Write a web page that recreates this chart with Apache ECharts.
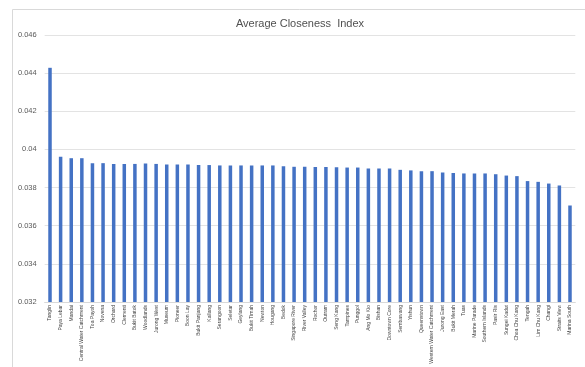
<!DOCTYPE html>
<html>
<head>
<meta charset="utf-8">
<script src="https://cdn.jsdelivr.net/npm/echarts@6/dist/echarts.min.js"></script>
<style>
  html, body { margin: 0; padding: 0; background: #ffffff; }
  #chart { width: 585px; height: 367px; }
</style>
</head>
<body>
<div id="chart"></div>
<script>
// Planning areas, ordered by average closeness
const areas = [
  'Tanglin', 'Paya Lebar', 'Mandai', 'Central Water Catchment', 'Toa Payoh',
  'Novena', 'Orchard', 'Clementi', 'Bukit Batok', 'Woodlands',
  'Jurong West', 'Museum', 'Pioneer', 'Boon Lay', 'Bukit Panjang',
  'Kallang', 'Serangoon', 'Seletar', 'Geylang', 'Bukit Timah',
  'Newton', 'Hougang', 'Bedok', 'Singapore River', 'River Valley',
  'Rochor', 'Outram', 'Seng Kang', 'Tampines', 'Punggol',
  'Ang Mo Kio', 'Bishan', 'Downtown Core', 'Sembawang', 'Yishun',
  'Queenstown', 'Western Water Catchment', 'Jurong East', 'Bukit Merah', 'Tuas',
  'Marine Parade', 'Southern Islands', 'Pasir Ris', 'Sungei Kadut', 'Choa Chu Kang',
  'Tengah', 'Lim Chu Kang', 'Changi', 'Straits View', 'Marina South'
];

// Average closeness index per area
const closeness = [
  0.04428, 0.03961, 0.03954, 0.03954, 0.03928,
  0.03928, 0.03924, 0.03924, 0.03924, 0.03926,
  0.03924, 0.03921, 0.03921, 0.03921, 0.03918,
  0.03918, 0.03916, 0.03916, 0.03916, 0.03916,
  0.03916, 0.03916, 0.03912, 0.03909, 0.03909,
  0.03908, 0.03908, 0.03906, 0.03905, 0.03905,
  0.03900, 0.03900, 0.03900, 0.03893, 0.03890,
  0.03886, 0.03886, 0.03879, 0.03877, 0.03874,
  0.03874, 0.03874, 0.03870, 0.03863, 0.03860,
  0.03834, 0.03830, 0.03821, 0.03811, 0.03706
];

// Value axis range and step
const yMin = 0.032;
const yMax = 0.046;
const yStep = 0.002;

const chart = echarts.init(document.getElementById('chart'), null, { renderer: 'canvas' });

chart.setOption({
  animation: false,
  backgroundColor: '#ffffff',
  graphic: [{
    type: 'rect',
    shape: { x: 12.5, y: 9.5, width: 600, height: 400 },
    style: { fill: 'none', stroke: '#d9d9d9', lineWidth: 1 },
    silent: true,
    z: -1
  }],
  title: {
    text: 'Average Closeness  Index',
    left: 295,
    textAlign: 'center',
    top: 13,
    textStyle: {
      fontFamily: 'Liberation Sans, Arial, sans-serif',
      fontSize: 11,
      fontWeight: 'normal',
      color: '#505050'
    }
  },
  grid: {
    left: 44.7,
    right: 9.7,
    top: 35,
    bottom: 65,
    containLabel: false,
    outerBoundsMode: 'none'
  },
  xAxis: {
    type: 'category',
    data: areas,
    axisLine: { show: true, lineStyle: { color: '#d9d9d9', width: 1 } },
    axisTick: { show: false },
    axisLabel: {
      interval: 0,
      rotate: 90,
      margin: 3,
      hideOverlap: false,
      fontFamily: 'Liberation Sans, Arial, sans-serif',
      fontSize: 5,
      color: '#454545'
    }
  },
  yAxis: {
    type: 'value',
    min: yMin,
    max: yMax,
    interval: yStep,
    axisLine: { show: false },
    axisTick: { show: false },
    splitLine: { show: true, lineStyle: { color: '#e3e3e3', width: 1 } },
    axisLabel: {
      margin: 8,
      fontFamily: 'Liberation Sans, Arial, sans-serif',
      fontSize: 7.5,
      color: '#595959',
      formatter: function (v) {
        return String(parseFloat(v.toFixed(3)));
      }
    }
  },
  series: [{
    type: 'bar',
    data: closeness,
    barWidth: '33%',
    itemStyle: { color: '#4472C4' }
  }]
});
</script>
</body>
</html>
